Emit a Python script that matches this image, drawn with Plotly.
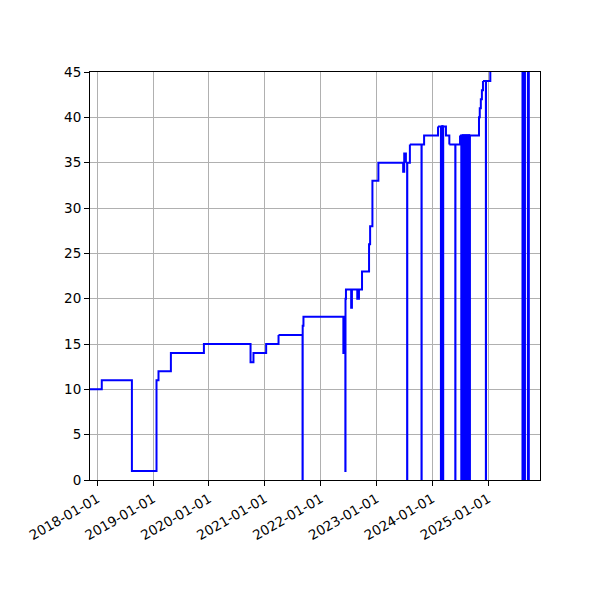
import pandas as pd
import plotly.graph_objects as go

# level changes: date the level starts, value
level_dates = [
    "2017-11-14", "2018-01-30", "2018-08-15", "2019-01-23", "2019-02-05",
    "2019-04-27", "2019-11-29", "2020-09-29", "2020-10-18", "2021-01-09",
    "2021-03-31", "2021-09-05", "2021-09-10", "2022-05-29", "2022-06-01",
    "2022-06-11", "2022-06-12", "2022-06-15", "2022-07-19", "2022-07-24",
    "2022-08-28", "2022-09-08", "2022-09-28", "2022-11-13", "2022-11-20",
    "2022-12-05", "2023-01-13", "2023-06-24", "2023-07-01", "2023-07-12",
    "2023-08-07", "2023-11-08", "2024-02-07", "2024-03-30", "2024-04-21",
    "2024-06-30", "2024-11-01", "2024-11-06", "2024-11-13", "2024-11-20",
    "2024-11-27", "2025-01-14", "2025-09-30",
]
level_values = [
    10, 11, 1, 11, 12,
    14, 15, 13, 14, 15,
    16, 17, 18, 14, 18,
    1, 20, 21, 19, 21,
    20, 21, 23, 26, 28,
    33, 35, 34, 36, 35,
    37, 38, 39, 38, 37,
    38, 40, 41, 42, 43,
    44, 47, 47,
]

# days where the reading fell to zero
zero_dates = [
    "2021-09-04", "2023-07-20", "2023-10-22",
    "2024-02-26", "2024-02-28", "2024-03-01", "2024-03-03", "2024-03-05",
    "2024-03-07", "2024-03-09", "2024-03-11",
    "2024-05-30",
    "2024-07-09", "2024-07-11", "2024-07-13", "2024-07-15", "2024-07-17",
    "2024-07-19", "2024-07-21", "2024-07-23", "2024-07-25", "2024-07-27",
    "2024-07-29", "2024-07-31", "2024-08-02", "2024-08-04", "2024-08-06",
    "2024-08-08", "2024-08-10", "2024-08-12", "2024-08-14", "2024-08-16",
    "2024-08-18", "2024-08-20", "2024-08-22", "2024-08-24", "2024-08-26",
    "2024-08-28", "2024-08-30", "2024-09-01",
    "2024-12-16",
    "2025-08-13", "2025-08-15", "2025-08-17", "2025-08-19", "2025-08-21",
    "2025-08-23", "2025-08-25", "2025-08-27",
    "2025-09-17", "2025-09-19", "2025-09-21",
]

year_ticks = [f"{y}-01-01" for y in range(2018, 2026)]

levels = pd.Series(level_values, index=pd.to_datetime(level_dates))
pts = levels.copy()
for z in pd.to_datetime(zero_dates):
    back = levels[levels.index <= z + pd.Timedelta(days=1)].iloc[-1]
    pts[z] = 0
    if z + pd.Timedelta(days=1) not in pts.index:
        pts[z + pd.Timedelta(days=1)] = back
pts = pts.sort_index()

# one path per zero drop so the dense drops render as solid bands
zero_set = set(pd.to_datetime(zero_dates))
cuts = [0] + [i - 1 for i, t in enumerate(pts.index) if t in zero_set] + [len(pts) - 1]

fig = go.Figure()
for a, b in zip(cuts[:-1], cuts[1:]):
    part = pts.iloc[a:b + 1]
    fig.add_trace(go.Scatter(
        x=part.index, y=part.values, mode="lines",
        line=dict(color="blue", width=2, shape="hv", simplify=False),
        hoverinfo="skip",
    ))

axis_style = dict(
    showline=True, mirror=True, linecolor="black", linewidth=1,
    ticks="outside", ticklen=5, tickcolor="black",
    showgrid=True, gridcolor="#b0b0b0", gridwidth=1,
    zeroline=False,
)
fig.update_xaxes(
    range=["2017-11-14", "2025-12-05"], tickvals=year_ticks,
    tickformat="%Y-%m-%d", tickangle=-30, **axis_style,
)
fig.update_yaxes(range=[0, 45], dtick=5, **axis_style)
# page body adds 8px offset, margins compensate
fig.update_layout(
    width=600, height=600,
    margin=dict(l=82, r=68, t=64, b=128),
    plot_bgcolor="white", paper_bgcolor="white",
    showlegend=False,
    font=dict(family="DejaVu Sans", size=13.5, color="black"),
)
fig.write_html("out.html")
